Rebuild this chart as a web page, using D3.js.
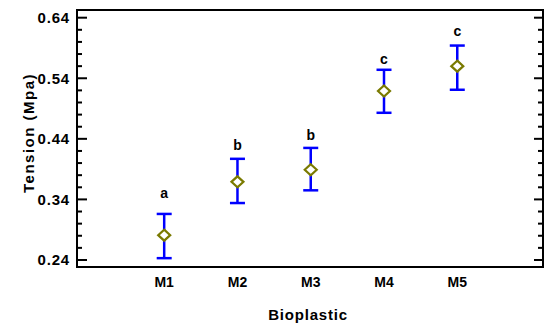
<!DOCTYPE html>
<html>
<head>
<meta charset="utf-8">
<script src="https://cdn.jsdelivr.net/npm/d3@7"></script>
<style>
  body { margin: 0; background: #fff; }
  text { font-family: "Liberation Sans", Arial, sans-serif; font-weight: bold; }
</style>
</head>
<body>
<div id="chart"></div>
<script>
// values
const groups = ["M1", "M2", "M3", "M4", "M5"];
const means  = [0.281, 0.369, 0.389, 0.519, 0.560];
const lower  = [0.243, 0.334, 0.355, 0.483, 0.521];
const upper  = [0.316, 0.407, 0.425, 0.554, 0.594];
const letters = ["a", "b", "b", "c", "c"];
const letterAt = [0.342, 0.421, 0.438, 0.564, 0.609];
const yTicks = [0.24, 0.34, 0.44, 0.54, 0.64];

const W = 550, H = 332;
const margin = {top: 10, right: 7, bottom: 65, left: 77};
const width = W - margin.left - margin.right,
      height = H - margin.top - margin.bottom;

const svg = d3.select("#chart").append("svg")
    .attr("width", W).attr("height", H);

const g = svg.append("g")
    .attr("transform", `translate(${margin.left},${margin.top})`);

const x = d3.scaleLinear().domain([-0.19, 6.17]).range([0, width]);
const y = d3.scaleLinear().domain([0.2284, 0.6527]).range([height, 0]);

// minor ticks every 0.02
const minor = d3.range(0.24, 0.6527, 0.02).filter(v => !yTicks.some(t => Math.abs(t - v) < 1e-6));

// left axis ticks (inside)
g.selectAll(".lmaj").data(yTicks).enter().append("line")
    .attr("x1", 0).attr("x2", 10)
    .attr("y1", d => y(d)).attr("y2", d => y(d))
    .attr("stroke", "#000").attr("stroke-width", 2);
g.selectAll(".lmin").data(minor).enter().append("line")
    .attr("x1", 0).attr("x2", 5)
    .attr("y1", d => y(d)).attr("y2", d => y(d))
    .attr("stroke", "#000").attr("stroke-width", 2);
// right axis ticks
g.selectAll(".rmaj").data(yTicks).enter().append("line")
    .attr("x1", width).attr("x2", width - 9)
    .attr("y1", d => y(d)).attr("y2", d => y(d))
    .attr("stroke", "#000").attr("stroke-width", 2);
g.selectAll(".rmin").data(minor).enter().append("line")
    .attr("x1", width).attr("x2", width - 5)
    .attr("y1", d => y(d)).attr("y2", d => y(d))
    .attr("stroke", "#000").attr("stroke-width", 2);

// frame
g.append("rect")
    .attr("x", 0).attr("y", 0).attr("width", width).attr("height", height)
    .attr("fill", "none").attr("stroke", "#000").attr("stroke-width", 2);

// y tick labels
g.selectAll(".ylab").data(yTicks).enter().append("text")
    .attr("x", -7).attr("y", d => y(d)).attr("dy", "0.36em")
    .attr("text-anchor", "end").style("font-size", "15px")
    .style("letter-spacing", "0.8px")
    .text(d => d.toFixed(2));

// x tick labels
g.selectAll(".xlab").data(groups).enter().append("text")
    .attr("x", (d, i) => x(i + 1)).attr("y", height + 20)
    .attr("text-anchor", "middle").style("font-size", "14px")
    .text(d => d);

// axis titles
svg.append("text")
    .attr("x", 308).attr("y", 320)
    .attr("text-anchor", "middle").style("font-size", "15px")
    .style("letter-spacing", "0.8px")
    .text("Bioplastic");
svg.append("text")
    .attr("transform", "translate(34,133) rotate(-90)")
    .attr("text-anchor", "middle").style("font-size", "15px")
    .style("letter-spacing", "1.5px")
    .text("Tension (Mpa)");

// error bars
const eb = g.selectAll(".eb").data(groups).enter().append("g");
eb.append("line")
    .attr("x1", (d, i) => x(i + 1)).attr("x2", (d, i) => x(i + 1))
    .attr("y1", (d, i) => y(lower[i])).attr("y2", (d, i) => y(upper[i]))
    .attr("stroke", "#0000ff").attr("stroke-width", 2.5);
eb.append("line")
    .attr("x1", (d, i) => x(i + 1) - 7.5).attr("x2", (d, i) => x(i + 1) + 7.5)
    .attr("y1", (d, i) => y(lower[i])).attr("y2", (d, i) => y(lower[i]))
    .attr("stroke", "#0000ff").attr("stroke-width", 2.5);
eb.append("line")
    .attr("x1", (d, i) => x(i + 1) - 7.5).attr("x2", (d, i) => x(i + 1) + 7.5)
    .attr("y1", (d, i) => y(upper[i])).attr("y2", (d, i) => y(upper[i]))
    .attr("stroke", "#0000ff").attr("stroke-width", 2.5);

// mean diamonds
eb.append("path")
    .attr("d", "M0,-5.5L6,0L0,5.5L-6,0Z")
    .attr("transform", (d, i) => `translate(${x(i + 1)},${y(means[i])})`)
    .attr("fill", "#fff").attr("stroke", "#7a7a00").attr("stroke-width", 2.2);

// group letters
eb.append("text")
    .attr("x", (d, i) => x(i + 1)).attr("y", (d, i) => y(letterAt[i]))
    .attr("text-anchor", "middle").style("font-size", "14px")
    .text((d, i) => letters[i]);
</script>
</body>
</html>
